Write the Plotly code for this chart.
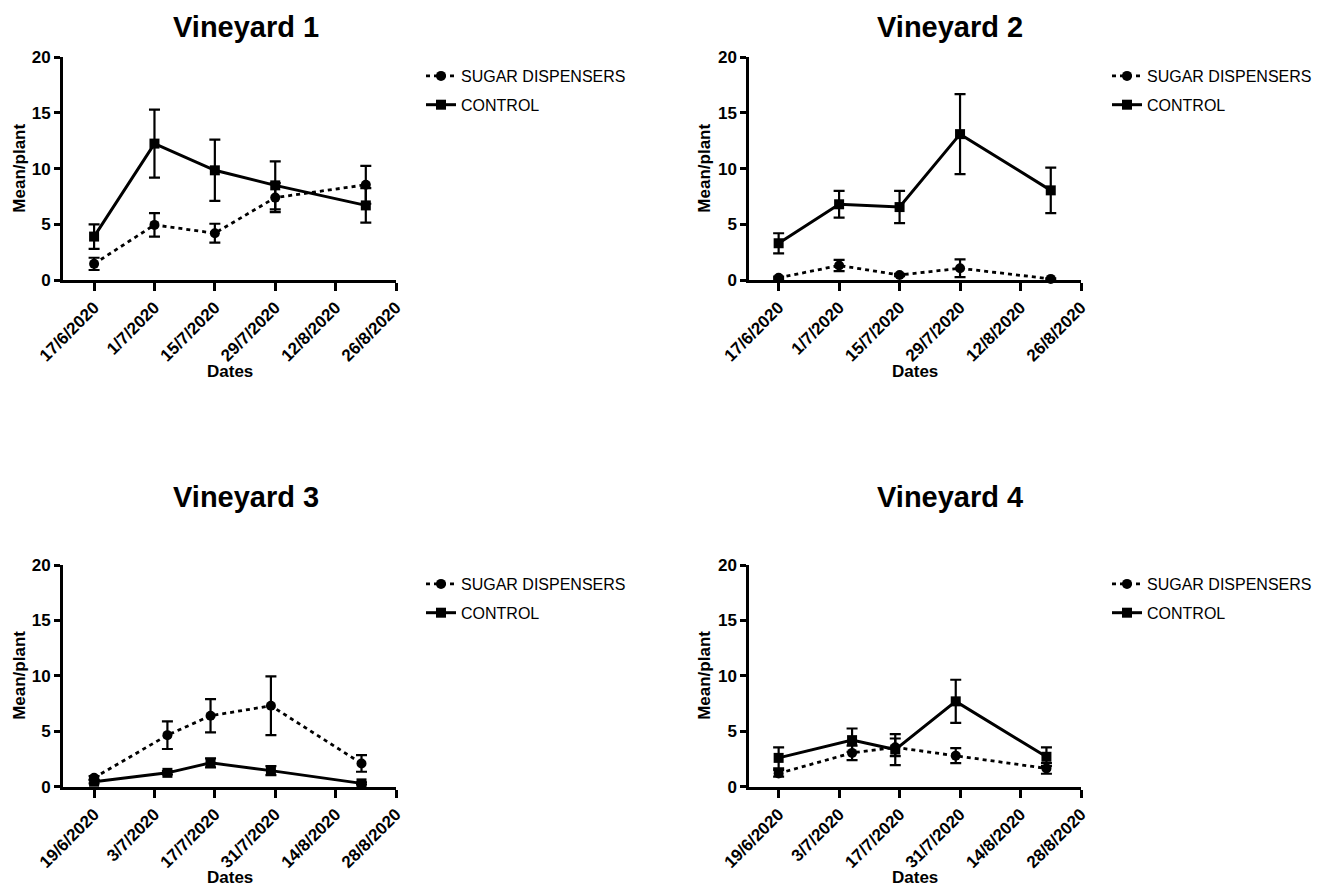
import plotly.graph_objects as go

# ---------------- data ----------------
series_names = ["SUGAR DISPENSERS", "CONTROL"]
panel_titles = ["Vineyard 1", "Vineyard 2", "Vineyard 3", "Vineyard 4"]

dates_top = ["2020-06-17", "2020-07-01", "2020-07-15", "2020-07-29", "2020-08-19"]
dates_bottom = ["2020-06-19", "2020-07-06", "2020-07-16", "2020-07-30", "2020-08-20"]

tickvals_top = ["2020-06-17", "2020-07-01", "2020-07-15", "2020-07-29", "2020-08-12", "2020-08-26"]
ticktext_top = ["17/6/2020", "1/7/2020", "15/7/2020", "29/7/2020", "12/8/2020", "26/8/2020"]
tickvals_bottom = ["2020-06-19", "2020-07-03", "2020-07-17", "2020-07-31", "2020-08-14", "2020-08-28"]
ticktext_bottom = ["19/6/2020", "3/7/2020", "17/7/2020", "31/7/2020", "14/8/2020", "28/8/2020"]

v1_sugar = [1.45, 4.95, 4.2, 7.4, 8.55]
v1_sugar_err = [0.55, 1.05, 0.85, 1.3, 1.7]
v1_control = [3.9, 12.25, 9.85, 8.5, 6.7]
v1_control_err = [1.1, 3.05, 2.75, 2.15, 1.55]

v2_sugar = [0.2, 1.3, 0.45, 1.05, 0.1]
v2_sugar_err = [0.1, 0.5, 0.1, 0.8, 0.05]
v2_control = [3.3, 6.8, 6.55, 13.1, 8.05]
v2_control_err = [0.9, 1.2, 1.45, 3.6, 2.05]

v3_sugar = [0.8, 4.65, 6.4, 7.3, 2.1]
v3_sugar_err = [0.15, 1.25, 1.5, 2.65, 0.75]
v3_control = [0.45, 1.25, 2.15, 1.45, 0.3]
v3_control_err = [0.15, 0.15, 0.4, 0.4, 0.1]

v4_sugar = [1.2, 3.05, 3.55, 2.8, 1.65]
v4_sugar_err = [0.3, 0.65, 0.8, 0.68, 0.48]
v4_control = [2.6, 4.2, 3.35, 7.7, 2.7]
v4_control_err = [0.95, 1.05, 1.4, 1.95, 0.85]

# ---------------- layout helpers ----------------
W, H = 1330, 887
FONT = "Liberation Sans, Arial, Helvetica, sans-serif"

def px_x(v):
    return v / W

def px_y(v):
    return 1 - v / H

panels = [
    dict(x0=63, x1=396, y0=57.3, y1=280, dates=dates_top, tv=tickvals_top, tt=ticktext_top,
         rng=["2020-06-09 19:00", "2020-08-26"],
         s=v1_sugar, se=v1_sugar_err, c=v1_control, ce=v1_control_err),
    dict(x0=749.3, x1=1081, y0=57.3, y1=280, dates=dates_top, tv=tickvals_top, tt=ticktext_top,
         rng=["2020-06-10 05:00", "2020-08-26"],
         s=v2_sugar, se=v2_sugar_err, c=v2_control, ce=v2_control_err),
    dict(x0=63, x1=396, y0=565, y1=786.7, dates=dates_bottom, tv=tickvals_bottom, tt=ticktext_bottom,
         rng=["2020-06-11 19:00", "2020-08-28"],
         s=v3_sugar, se=v3_sugar_err, c=v3_control, ce=v3_control_err),
    dict(x0=749.3, x1=1081, y0=565, y1=786.7, dates=dates_bottom, tv=tickvals_bottom, tt=ticktext_bottom,
         rng=["2020-06-12 05:00", "2020-08-28"],
         s=v4_sugar, se=v4_sugar_err, c=v4_control, ce=v4_control_err),
]

title_pos = [(246, 27), (950, 27), (246, 497), (950, 497)]
ylab_x = [20, 705, 20, 705]
xlab_y = [372, 372, 877, 877]
legend_pos = [(421, 59), (1107, 59), (421, 567), (1107, 567)]

fig = go.Figure()
layout = dict(
    width=W, height=H,
    margin=dict(l=0, r=0, t=0, b=0, pad=0, autoexpand=False),
    paper_bgcolor="white", plot_bgcolor="white",
    font=dict(family=FONT, color="black"),
    annotations=[],
)

for i, p in enumerate(panels):
    n = i + 1
    xa = "x" if n == 1 else f"x{n}"
    ya = "y" if n == 1 else f"y{n}"
    leg = "legend" if n == 1 else f"legend{n}"

    fig.add_trace(go.Scatter(
        x=p["dates"], y=p["s"], name=series_names[0], mode="lines+markers",
        xaxis=xa, yaxis=ya, legend=leg, legendgroup=f"s{n}",
        line=dict(color="black", width=2.8, dash="4px,4px"),
        marker=dict(symbol="circle", size=10, color="black"),
        error_y=dict(type="data", array=p["se"], color="black", thickness=2.2, width=5.5),
        cliponaxis=False,
    ))
    fig.add_trace(go.Scatter(
        x=p["dates"], y=p["c"], name=series_names[1], mode="lines+markers",
        xaxis=xa, yaxis=ya, legend=leg, legendgroup=f"c{n}",
        line=dict(color="black", width=3),
        marker=dict(symbol="square", size=10, color="black"),
        error_y=dict(type="data", array=p["ce"], color="black", thickness=2.2, width=5.5),
        cliponaxis=False,
    ))

    xkey = "xaxis" if n == 1 else f"xaxis{n}"
    ykey = "yaxis" if n == 1 else f"yaxis{n}"
    layout[xkey] = dict(
        domain=[px_x(p["x0"]), px_x(p["x1"])], anchor=ya, type="date",
        range=p["rng"], tickmode="array", tickvals=p["tv"], ticktext=p["tt"],
        tickangle=-45, ticks="outside", ticklen=8, tickwidth=3, tickcolor="black",
        showline=True, linewidth=3, linecolor="black", showgrid=False, zeroline=False,
        tickfont=dict(family=FONT, size=17, color="black", weight="bold"),
        fixedrange=True, automargin=False,
    )
    layout[ykey] = dict(
        domain=[px_y(p["y1"]), px_y(p["y0"])], anchor=xa,
        range=[0, 20], tickmode="array", tickvals=[0, 5, 10, 15, 20],
        ticks="outside", ticklen=6, tickwidth=3, tickcolor="black",
        showline=True, linewidth=3, linecolor="black", showgrid=False, zeroline=False,
        tickfont=dict(family=FONT, size=17, color="black", weight="bold"),
        fixedrange=True, automargin=False,
    )
    lx, ly = legend_pos[i]
    layout[leg] = dict(
        x=px_x(lx), y=px_y(ly), xanchor="left", yanchor="top",
        font=dict(family=FONT, size=16, color="black"),
        bgcolor="rgba(0,0,0,0)", tracegroupgap=5,
    )

    tx, ty = title_pos[i]
    layout["annotations"].append(dict(
        text=panel_titles[i], x=px_x(tx), y=px_y(ty), xref="paper", yref="paper",
        xanchor="center", yanchor="middle", showarrow=False,
        font=dict(family=FONT, size=29, color="black", weight="bold"),
    ))
    layout["annotations"].append(dict(
        text="Mean/plant", x=px_x(ylab_x[i]), y=px_y((p["y0"] + p["y1"]) / 2),
        xref="paper", yref="paper", xanchor="center", yanchor="middle",
        textangle=-90, showarrow=False,
        font=dict(family=FONT, size=17, color="black", weight="bold"),
    ))
    layout["annotations"].append(dict(
        text="Dates", x=px_x((p["x0"] + p["x1"]) / 2), y=px_y(xlab_y[i]),
        xref="paper", yref="paper", xanchor="center", yanchor="middle",
        showarrow=False,
        font=dict(family=FONT, size=17, color="black", weight="bold"),
    ))

fig.update_layout(**layout)
fig.write_html(
    "out.html",
    config={"displayModeBar": False},
    post_script="document.body.style.margin='0';document.body.style.padding='0';",
)
